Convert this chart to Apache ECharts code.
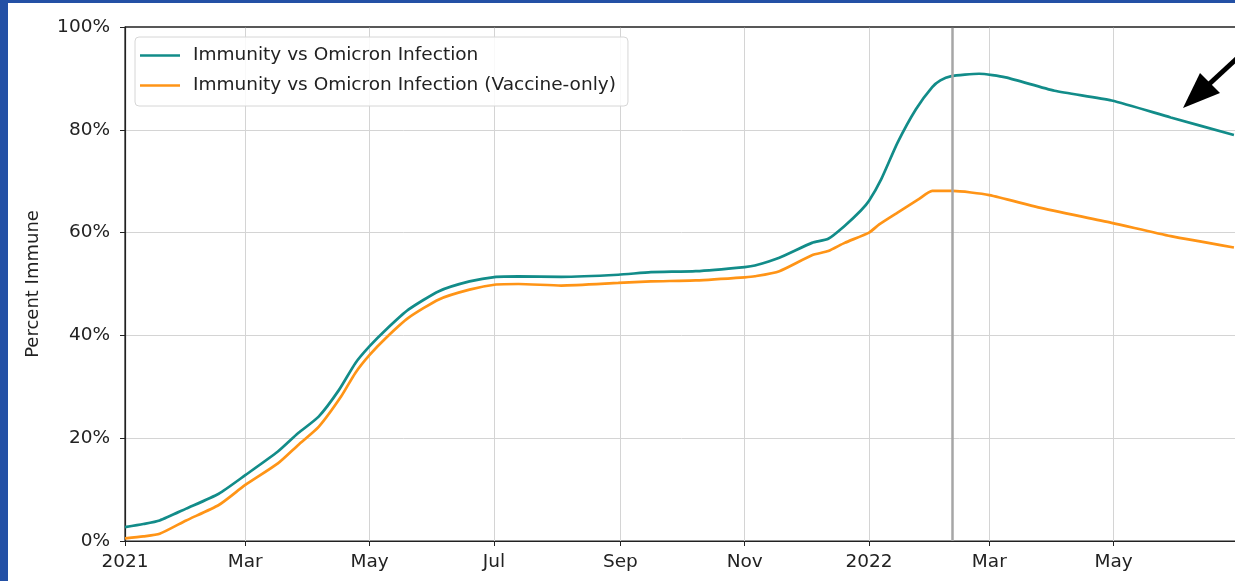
<!DOCTYPE html>
<html>
<head>
<meta charset="utf-8">
<script src="https://cdn.jsdelivr.net/npm/echarts@6/dist/echarts.min.js"></script>
<style>
  html, body { margin: 0; padding: 0; background: #2350a5; overflow: hidden; width: 1235px; height: 581px; }
  #main { position: absolute; left: 8px; top: 3px; width: 1260px; height: 578px; background: #fff; }
</style>
</head>
<body>
<div id="main"></div>
<script>
// immunity vs omicron, daily series (% of population)
var allDates = [
  '2021-01-01','2021-01-10','2021-01-18','2021-01-31','2021-02-16','2021-03-01','2021-03-17','2021-03-27',
  '2021-04-06','2021-04-16','2021-04-24','2021-05-01','2021-05-09','2021-05-20','2021-06-04','2021-06-19',
  '2021-07-02','2021-07-13','2021-08-03','2021-08-31','2021-09-16','2021-10-08','2021-11-01','2021-11-06',
  '2021-11-18','2021-12-04','2021-12-12','2021-12-20','2021-12-28','2022-01-01','2022-01-07','2022-01-15',
  '2022-01-24','2022-02-01','2022-02-05','2022-02-10','2022-02-24','2022-03-09','2022-04-02','2022-04-30',
  '2022-05-29','2022-06-29'
];
var allValues = [
  2.7, 3.3, 4.0, 6.3, 9.2, 12.8, 17.4, 21.0,
  24.2, 29.4, 34.6, 37.9, 41.1, 45.0, 48.6, 50.5,
  51.4, 51.5, 51.4, 51.8, 52.3, 52.5, 53.3, 53.6,
  55.1, 58.0, 58.8, 61.3, 64.3, 66.2, 70.4, 77.5,
  84.0, 88.3, 89.6, 90.4, 90.9, 90.2, 87.6, 85.7,
  82.4, 79.0
];

var vaxDates = [
  '2021-01-01','2021-01-10','2021-01-18','2021-01-31','2021-02-16','2021-03-01','2021-03-17','2021-03-27',
  '2021-04-06','2021-04-17','2021-04-24','2021-05-01','2021-05-09','2021-05-20','2021-06-04','2021-06-19',
  '2021-07-02','2021-07-13','2021-08-03','2021-08-31','2021-09-16','2021-10-08','2021-11-01','2021-11-06',
  '2021-11-18','2021-12-04','2021-12-12','2021-12-20','2022-01-01','2022-01-06','2022-01-15','2022-01-25',
  '2022-02-01','2022-02-11','2022-03-01','2022-03-25','2022-04-30','2022-05-29','2022-06-29'
];
var vaxValues = [
  0.5, 0.9, 1.4, 4.0, 7.0, 10.9, 15.1, 18.7,
  22.2, 28.1, 32.7, 36.2, 39.5, 43.4, 47.0, 48.9,
  49.9, 50.0, 49.7, 50.2, 50.5, 50.7, 51.3, 51.5,
  52.5, 55.6, 56.4, 58.0, 60.0, 61.6, 63.9, 66.4,
  68.1, 68.1, 67.3, 64.9, 61.9, 59.3, 57.1
];

var seriesNames = ['Immunity vs Omicron Infection', 'Immunity vs Omicron Infection (Vaccine-only)'];
var yTicks = [0, 20, 40, 60, 80, 100];
var markerDate = '2022-02-11';
var xEnd = '2022-07-01';
var monthNames = ['Jan','Feb','Mar','Apr','May','Jun','Jul','Aug','Sep','Oct','Nov','Dec'];

function pairs(d, v) {
  return d.map(function (x, i) { return [x, v[i]]; });
}

var chart = echarts.init(document.getElementById('main'));
var font = 'DejaVu Sans';
var endTime = +echarts.time.parse(xEnd);

var option = {
  animation: false,
  textStyle: { fontFamily: font },
  grid: {
    left: 117, top: 24, bottom: 40, right: 30,
    show: true, borderColor: '#222', borderWidth: 1.2
  },
  legend: {
    left: 127, top: 34,
    orient: 'vertical',
    data: seriesNames,
    icon: 'rect',
    itemWidth: 40, itemHeight: 2.6, itemGap: 11,
    padding: [9, 12, 11, 5],
    backgroundColor: 'rgba(255,255,255,0.85)',
    borderColor: '#d6d6d6', borderWidth: 1, borderRadius: 4,
    textStyle: { fontFamily: font, fontSize: 18.5, color: '#222', padding: [0, 0, 0, 8] }
  },
  xAxis: {
    type: 'time',
    min: '2021-01-01', max: xEnd,
    splitNumber: 7,
    axisLine: { lineStyle: { color: '#222', width: 1.2 } },
    axisTick: { show: true, length: 5, lineStyle: { color: '#222' } },
    axisLabel: {
      fontSize: 18.5, color: '#222', margin: 12, hideOverlap: false,
      formatter: function (val) {
        if (val >= endTime) return '';
        var d = new Date(val);
        return d.getMonth() === 0 ? String(d.getFullYear()) : monthNames[d.getMonth()];
      }
    },
    splitLine: { show: true, showMinLine: false, lineStyle: { color: '#d4d4d4', width: 1 } },
    minorTick: { show: false }
  },
  yAxis: {
    type: 'value',
    min: yTicks[0], max: yTicks[yTicks.length - 1], interval: 20,
    name: 'Percent Immune',
    nameLocation: 'middle', nameGap: 83,
    nameTextStyle: { fontSize: 18, color: '#222' },
    axisLine: { show: true, lineStyle: { color: '#222', width: 1.2 } },
    axisTick: { show: true, length: 5, lineStyle: { color: '#222' } },
    axisLabel: { fontSize: 18.5, color: '#222', margin: 15, formatter: '{value}%' },
    splitLine: { show: true, showMinLine: false, showMaxLine: false, lineStyle: { color: '#d4d4d4', width: 1 } }
  },
  series: [
    {
      name: seriesNames[0],
      type: 'line',
      data: pairs(allDates, allValues),
      symbol: 'none',
      smooth: 0.2,
      color: '#128c89',
      lineStyle: { width: 2.7, color: '#128c89' },
      markLine: {
        silent: true,
        symbol: 'none',
        label: { show: false },
        lineStyle: { color: '#a6a6a6', width: 2.5, type: 'solid' },
        data: [{ xAxis: markerDate }]
      },
      z: 3
    },
    {
      name: seriesNames[1],
      type: 'line',
      data: pairs(vaxDates, vaxValues),
      symbol: 'none',
      smooth: 0.2,
      color: '#ff9416',
      lineStyle: { width: 2.7, color: '#ff9416' },
      z: 2
    }
  ],
  graphic: [
    {
      type: 'line',
      z: 100,
      shape: { x1: 0, y1: 24, x2: 1260, y2: 24 },
      style: { stroke: '#222', lineWidth: 1.2 },
      silent: true
    },
    {
      type: 'line',
      shape: { x1: 1198, y1: 84, x2: 1250, y2: 36 },
      style: { stroke: '#000', lineWidth: 5 }
    },
    {
      type: 'polygon',
      shape: { points: [[1175, 105], [1192, 70], [1212, 90]] },
      style: { fill: '#000' }
    }
  ]
};
// top spine only spans the plot area
option.graphic[0].shape.x1 = 117;
chart.setOption(option);
</script>
</body>
</html>
